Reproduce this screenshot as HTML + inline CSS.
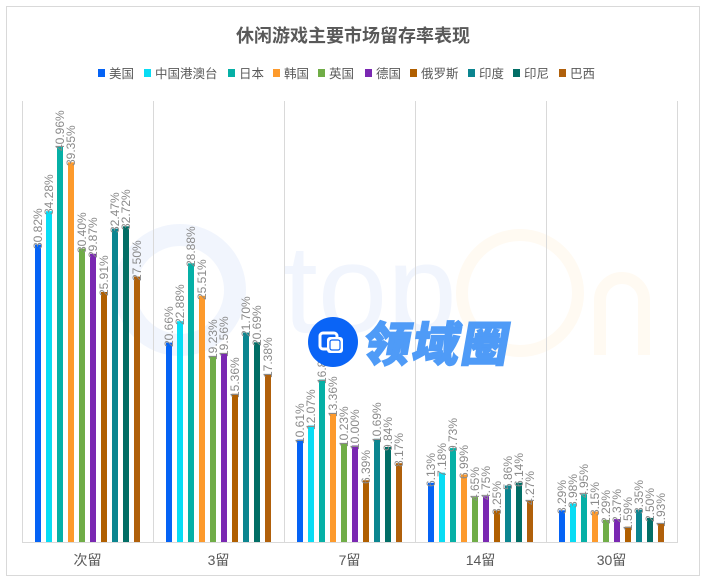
<!DOCTYPE html>
<html><head><meta charset="utf-8"><style>
html,body{margin:0;padding:0;background:#fff;}
svg{display:block;font-family:"Liberation Sans","Noto Sans CJK SC",sans-serif;}
.lb{font-size:12px;fill:#8a8a8a;}
.lg{font-size:12.5px;fill:#595959;}
.cat{font-size:14px;fill:#595959;}
</style></head><body>
<svg width="706" height="585" viewBox="0 0 706 585" xmlns="http://www.w3.org/2000/svg">
<rect x="0" y="0" width="706" height="585" fill="#fff"/>
<rect x="6.5" y="6.5" width="693" height="569" fill="#fff" stroke="#d9d9d9" stroke-width="1"/>
<!-- watermark -->
<circle cx="180" cy="290" r="55" fill="none" stroke="#f1f5fd" stroke-width="22"/>
<text x="283" y="332" font-size="125" fill="#f1f5fd" font-family="Liberation Sans, sans-serif">top</text>
<circle cx="520" cy="293" r="58" fill="none" stroke="#fffaf2" stroke-width="12"/>
<path d="M600 355 V300 A22 22 0 0 1 644 300 V355" fill="none" stroke="#fffaf2" stroke-width="12"/>
<!-- title -->
<text x="353" y="42" text-anchor="middle" font-size="18" font-weight="bold" fill="#595959">休闲游戏主要市场留存率表现</text>
<!-- legend -->
<rect x="98" y="69" width="7" height="8" fill="#0563f5"/><text class="lg" x="109" y="78">美国</text>
<rect x="144" y="69" width="7" height="8" fill="#08dcf4"/><text class="lg" x="155" y="78">中国港澳台</text>
<rect x="228" y="69" width="7" height="8" fill="#06b0a6"/><text class="lg" x="239" y="78">日本</text>
<rect x="273" y="69" width="7" height="8" fill="#fd9a2c"/><text class="lg" x="284" y="78">韩国</text>
<rect x="318" y="69" width="7" height="8" fill="#70ad47"/><text class="lg" x="329" y="78">英国</text>
<rect x="365" y="69" width="7" height="8" fill="#7a28b2"/><text class="lg" x="376" y="78">德国</text>
<rect x="410" y="69" width="7" height="8" fill="#b05f00"/><text class="lg" x="421" y="78">俄罗斯</text>
<rect x="468" y="69" width="7" height="8" fill="#0b8590"/><text class="lg" x="479" y="78">印度</text>
<rect x="513" y="69" width="7" height="8" fill="#026e66"/><text class="lg" x="524" y="78">印尼</text>
<rect x="559" y="69" width="7" height="8" fill="#b0600b"/><text class="lg" x="570" y="78">巴西</text>
<!-- grid -->
<g stroke="#d9d9d9" stroke-width="1">
<line x1="22.5" y1="101" x2="22.5" y2="542"/>
<line x1="153.5" y1="101" x2="153.5" y2="542"/>
<line x1="284.5" y1="101" x2="284.5" y2="542"/>
<line x1="415.5" y1="101" x2="415.5" y2="542"/>
<line x1="546.5" y1="101" x2="546.5" y2="542"/>
<line x1="677.5" y1="101" x2="677.5" y2="542"/>
<line x1="22" y1="542.5" x2="678" y2="542.5"/>
</g>
<!-- bars -->
<g>
<rect x="35" y="244.6" width="6" height="297.4" fill="#0563f5"/>
<rect x="46" y="211.2" width="6" height="330.8" fill="#08dcf4"/>
<rect x="57" y="146.7" width="6" height="395.3" fill="#06b0a6"/>
<rect x="68" y="162.3" width="6" height="379.7" fill="#fd9a2c"/>
<rect x="79" y="248.6" width="6" height="293.4" fill="#70ad47"/>
<rect x="90" y="253.8" width="6" height="288.2" fill="#7a28b2"/>
<rect x="101" y="292.0" width="6" height="250.0" fill="#b05f00"/>
<rect x="112" y="228.7" width="6" height="313.3" fill="#0b8590"/>
<rect x="123" y="226.3" width="6" height="315.7" fill="#026e66"/>
<rect x="134" y="276.6" width="6" height="265.4" fill="#b0600b"/>
</g>
<g>
<rect x="166" y="342.6" width="6" height="199.4" fill="#0563f5"/>
<rect x="177" y="321.2" width="6" height="220.8" fill="#08dcf4"/>
<rect x="188" y="263.3" width="6" height="278.7" fill="#06b0a6"/>
<rect x="199" y="295.8" width="6" height="246.2" fill="#fd9a2c"/>
<rect x="210" y="356.4" width="6" height="185.6" fill="#70ad47"/>
<rect x="221" y="353.2" width="6" height="188.8" fill="#7a28b2"/>
<rect x="232" y="393.8" width="6" height="148.2" fill="#b05f00"/>
<rect x="243" y="332.6" width="6" height="209.4" fill="#0b8590"/>
<rect x="254" y="342.3" width="6" height="199.7" fill="#026e66"/>
<rect x="265" y="374.3" width="6" height="167.7" fill="#b0600b"/>
</g>
<g>
<rect x="297" y="439.6" width="6" height="102.4" fill="#0563f5"/>
<rect x="308" y="425.5" width="6" height="116.5" fill="#08dcf4"/>
<rect x="319" y="379.6" width="6" height="162.4" fill="#06b0a6"/>
<rect x="330" y="413.1" width="6" height="128.9" fill="#fd9a2c"/>
<rect x="341" y="443.3" width="6" height="98.7" fill="#70ad47"/>
<rect x="352" y="445.5" width="6" height="96.5" fill="#7a28b2"/>
<rect x="363" y="480.3" width="6" height="61.7" fill="#b05f00"/>
<rect x="374" y="438.8" width="6" height="103.2" fill="#0b8590"/>
<rect x="385" y="447.0" width="6" height="95.0" fill="#026e66"/>
<rect x="396" y="463.2" width="6" height="78.8" fill="#b0600b"/>
</g>
<g>
<rect x="428" y="482.8" width="6" height="59.2" fill="#0563f5"/>
<rect x="439" y="472.7" width="6" height="69.3" fill="#08dcf4"/>
<rect x="450" y="448.1" width="6" height="93.9" fill="#06b0a6"/>
<rect x="461" y="474.5" width="6" height="67.5" fill="#fd9a2c"/>
<rect x="472" y="497.1" width="6" height="44.9" fill="#70ad47"/>
<rect x="483" y="496.2" width="6" height="45.8" fill="#7a28b2"/>
<rect x="494" y="510.6" width="6" height="31.4" fill="#b05f00"/>
<rect x="505" y="485.5" width="6" height="56.5" fill="#0b8590"/>
<rect x="516" y="482.7" width="6" height="59.3" fill="#026e66"/>
<rect x="527" y="500.8" width="6" height="41.2" fill="#b0600b"/>
</g>
<g>
<rect x="559" y="510.3" width="6" height="31.7" fill="#0563f5"/>
<rect x="570" y="503.6" width="6" height="38.4" fill="#08dcf4"/>
<rect x="581" y="494.2" width="6" height="47.8" fill="#06b0a6"/>
<rect x="592" y="511.6" width="6" height="30.4" fill="#fd9a2c"/>
<rect x="603" y="519.9" width="6" height="22.1" fill="#70ad47"/>
<rect x="614" y="519.1" width="6" height="22.9" fill="#7a28b2"/>
<rect x="625" y="526.7" width="6" height="15.3" fill="#b05f00"/>
<rect x="636" y="509.7" width="6" height="32.3" fill="#0b8590"/>
<rect x="647" y="517.9" width="6" height="24.1" fill="#026e66"/>
<rect x="658" y="523.4" width="6" height="18.6" fill="#b0600b"/>
</g>
<!-- labels -->
<g class="lb" dominant-baseline="central">
<text transform="translate(38,249) rotate(-90)">30.82%</text>
<text transform="translate(49,215) rotate(-90)">34.28%</text>
<text transform="translate(60,151) rotate(-90)">40.96%</text>
<text transform="translate(71,166) rotate(-90)">39.35%</text>
<text transform="translate(82,253) rotate(-90)">30.40%</text>
<text transform="translate(93,258) rotate(-90)">29.87%</text>
<text transform="translate(104,296) rotate(-90)">25.91%</text>
<text transform="translate(115,233) rotate(-90)">32.47%</text>
<text transform="translate(126,230) rotate(-90)">32.72%</text>
<text transform="translate(137,281) rotate(-90)">27.50%</text>

<text transform="translate(169,347) rotate(-90)">20.66%</text>
<text transform="translate(180,325) rotate(-90)">22.88%</text>
<text transform="translate(191,267) rotate(-90)">28.88%</text>
<text transform="translate(202,300) rotate(-90)">25.51%</text>
<text transform="translate(213,360) rotate(-90)">19.23%</text>
<text transform="translate(224,357) rotate(-90)">19.56%</text>
<text transform="translate(235,398) rotate(-90)">15.36%</text>
<text transform="translate(246,337) rotate(-90)">21.70%</text>
<text transform="translate(257,346) rotate(-90)">20.69%</text>
<text transform="translate(268,378) rotate(-90)">17.38%</text>

<text transform="translate(300,444) rotate(-90)">10.61%</text>
<text transform="translate(311,430) rotate(-90)">12.07%</text>
<text transform="translate(322,384) rotate(-90)">16.83%</text>
<text transform="translate(333,417) rotate(-90)">13.36%</text>
<text transform="translate(344,447) rotate(-90)">10.23%</text>
<text transform="translate(355,450) rotate(-90)">10.00%</text>
<text transform="translate(366,484) rotate(-90)">6.39%</text>
<text transform="translate(377,443) rotate(-90)">10.69%</text>
<text transform="translate(388,451) rotate(-90)">9.84%</text>
<text transform="translate(399,467) rotate(-90)">8.17%</text>

<text transform="translate(431,487) rotate(-90)">6.13%</text>
<text transform="translate(442,477) rotate(-90)">7.18%</text>
<text transform="translate(453,452) rotate(-90)">9.73%</text>
<text transform="translate(464,479) rotate(-90)">6.99%</text>
<text transform="translate(475,501) rotate(-90)">4.65%</text>
<text transform="translate(486,500) rotate(-90)">4.75%</text>
<text transform="translate(497,515) rotate(-90)">3.25%</text>
<text transform="translate(508,490) rotate(-90)">5.86%</text>
<text transform="translate(519,487) rotate(-90)">6.14%</text>
<text transform="translate(530,505) rotate(-90)">4.27%</text>

<text transform="translate(562,514) rotate(-90)">3.29%</text>
<text transform="translate(573,508) rotate(-90)">3.98%</text>
<text transform="translate(584,498) rotate(-90)">4.95%</text>
<text transform="translate(595,516) rotate(-90)">3.15%</text>
<text transform="translate(606,524) rotate(-90)">2.29%</text>
<text transform="translate(617,523) rotate(-90)">2.37%</text>
<text transform="translate(628,531) rotate(-90)">1.59%</text>
<text transform="translate(639,514) rotate(-90)">3.35%</text>
<text transform="translate(650,522) rotate(-90)">2.50%</text>
<text transform="translate(661,527) rotate(-90)">1.93%</text>
</g>
<!-- category labels -->
<text class="cat" x="87.5" y="565" text-anchor="middle">次留</text>
<text class="cat" x="218.5" y="565" text-anchor="middle">3留</text>
<text class="cat" x="349.5" y="565" text-anchor="middle">7留</text>
<text class="cat" x="480.5" y="565" text-anchor="middle">14留</text>
<text class="cat" x="611.5" y="565" text-anchor="middle">30留</text>
<!-- logo -->
<circle cx="333" cy="342" r="25" fill="#0a64f6"/>
<rect x="320" y="333" width="17" height="16" rx="3" fill="none" stroke="#fff" stroke-width="3"/>
<rect x="327" y="337" width="16" height="16" rx="3" fill="#fff"/>
<rect x="330" y="340" width="10" height="10" rx="2" fill="none" stroke="#0a64f6" stroke-width="1.2"/>
<text x="362" y="361" font-size="47" font-weight="900" letter-spacing="2" fill="#4f9bf7" stroke="#4f9bf7" stroke-width="1.5" font-family="Noto Sans CJK SC, sans-serif" transform="skewX(-10) translate(63,0)">领域圈</text>
</svg>
</body></html>
